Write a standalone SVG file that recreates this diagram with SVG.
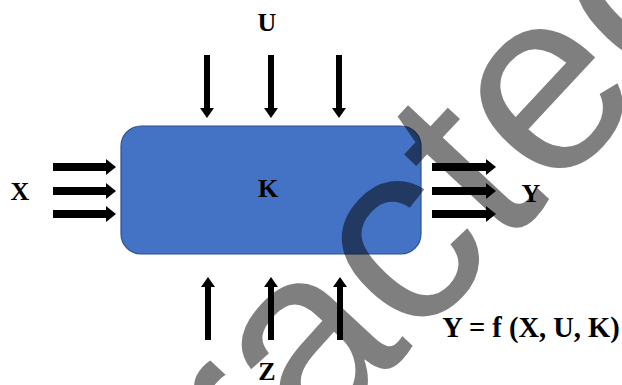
<svg xmlns="http://www.w3.org/2000/svg" width="622" height="385" viewBox="0 0 622 385">
  <defs>
    <style>
      .lbl { font-family: "Liberation Serif", "Times New Roman", serif; font-weight: bold; font-size: 26px; fill: #000; text-anchor: middle; }
      .big { font-size: 28.5px; }
      .arr { fill: #000; }
      .wm { font-family: "Liberation Sans", Arial, sans-serif; font-size: 260px; fill: #000; fill-opacity: 0.5; text-anchor: middle; }
    </style>
  </defs>
  <rect width="622" height="385" fill="#fff"/>
  <g id="connectors">
    <path class="arr" d="M204,55 H210 V108 H214 L207,118 L200,108 H204 Z"/>
    <path class="arr" d="M268,55 H274 V108 H278 L271,118 L264,108 H268 Z"/>
    <path class="arr" d="M336,55 H342 V108 H346 L339,118 L332,108 H336 Z"/>
    <path class="arr" d="M53,163 V171 H106 V175 L116,167 L106,159 V163 Z"/>
    <path class="arr" d="M53,187 V195 H106 V199 L116,191 L106,183 V187 Z"/>
    <path class="arr" d="M53,210 V218 H106 V222 L116,214 L106,206 V210 Z"/>
    <path class="arr" d="M432,163 V171 H486 V175 L496,167 L486,159 V163 Z"/>
    <path class="arr" d="M432,187 V195 H486 V199 L496,191 L486,183 V187 Z"/>
    <path class="arr" d="M432,210 V218 H486 V222 L496,214 L486,206 V210 Z"/>
    <path class="arr" d="M205,340 H211 V287 H215 L208,277 L201,287 H205 Z"/>
    <path class="arr" d="M268,340 H274 V287 H278 L271,277 L264,287 H268 Z"/>
    <path class="arr" d="M337,340 H343 V287 H347 L340,277 L333,287 H337 Z"/>
  </g>
  <g id="node-K">
    <rect x="121" y="126" width="300" height="128" rx="20" ry="20" fill="#4472C4" stroke="#2F528F" stroke-width="1.2"/>
    <text class="lbl" x="268" y="197">K</text>
  </g>
  <g id="label-U"><text class="lbl" x="267" y="31">U</text></g>
  <g id="label-X"><text class="lbl" x="20" y="200">X</text></g>
  <g id="label-Y"><text class="lbl" x="531" y="202">Y</text></g>
  <g id="label-Z"><text class="lbl" x="267" y="380">Z</text></g>
  <g id="formula"><text class="lbl big" x="531" y="337">Y = f (X, U, K)</text></g>
  <g id="watermark">
    <text class="wm" x="364" y="399" transform="rotate(-47 364 399)">Retracted</text>
  </g>
</svg>
